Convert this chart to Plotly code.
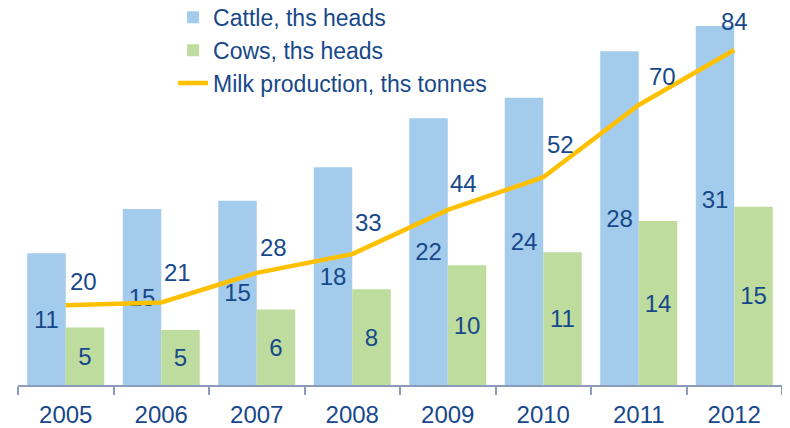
import plotly.graph_objects as go

years = ["2005", "2006", "2007", "2008", "2009", "2010", "2011", "2012"]
cattle = [11.0, 14.7, 15.4, 18.2, 22.3, 24.0, 27.9, 31.0]
cows = [4.8, 4.6, 6.3, 8.0, 10.0, 11.1, 13.7, 14.9]
milk = [20.0, 20.7, 28.1, 32.8, 43.9, 52.1, 70.2, 84.0]

names = ["Cattle, ths heads", "Cows, ths heads", "Milk production, ths tonnes"]

# label placement offsets for the milk labels (pixels)
milk_label_dx = [2, 1, 1, 1, 0, 2, 8, 0]
milk_label_dy = [24, 30, 25, 32, 26, 33, 28, 28]
milk_label_anchor = ["left"] * 7 + ["center"]

FONT = "Liberation Sans"
TXT = "#17488A"
FS = 24

fig = go.Figure()
fig.add_trace(go.Bar(
    x=years, y=cattle, name=names[0], marker=dict(color="#A3CBEC", line=dict(width=0)),
    text=cattle, texttemplate="%{y:.0f}", textposition="inside", insidetextanchor="middle",
    textfont=dict(family=FONT, size=FS, color=TXT), constraintext="none",
))
fig.add_trace(go.Bar(
    x=years, y=cows, name=names[1], marker=dict(color="#BEDC9E", line=dict(width=0)),
    text=cows, texttemplate="%{y:.0f}", textposition="inside", insidetextanchor="middle",
    textfont=dict(family=FONT, size=FS, color=TXT), constraintext="none",
))
fig.add_trace(go.Scatter(
    x=years, y=milk, name=names[2], mode="lines", yaxis="y2",
    line=dict(color="#FFC000", width=4.5),
))

for i, v in enumerate(milk):
    fig.add_annotation(
        x=i, y=v, xref="x", yref="y2", text=f"{v:.0f}", showarrow=False,
        xanchor=milk_label_anchor[i], yanchor="middle",
        xshift=milk_label_dx[i], yshift=milk_label_dy[i],
        font=dict(family=FONT, size=FS, color=TXT),
    )

# page body adds an 8px offset, so the figure is sized to fill the rest of the window
fig.update_layout(
    width=782, height=420,
    margin=dict(l=10, r=8, t=18, b=43, autoexpand=False),
    paper_bgcolor="white", plot_bgcolor="white",
    barmode="group", bargap=0.194, bargroupgap=0,
    showlegend=True,
    legend=dict(
        x=0.203, y=1.084, xanchor="left", yanchor="top",
        font=dict(family=FONT, size=23, color=TXT),
        bgcolor="rgba(0,0,0,0)", tracegroupgap=0, traceorder="normal",
    ),
    xaxis=dict(
        type="category", range=[-0.5, len(years) - 0.5], autorange=False,
        showline=True, linecolor="#8C9BBA", linewidth=1.5,
        ticks="outside", tickson="boundaries", ticklen=8, tickcolor="#8C9BBA", tickwidth=1.5,
        tickfont=dict(family=FONT, size=FS, color=TXT), ticklabelstandoff=7,
        tickangle=0, showgrid=False, zeroline=False, automargin=False,
    ),
    yaxis=dict(range=[0, 30], visible=False, showgrid=False, zeroline=False),
    yaxis2=dict(range=[0, 90], overlaying="y", side="right", visible=False,
                showgrid=False, zeroline=False),
)

fig.write_html("out.html")
